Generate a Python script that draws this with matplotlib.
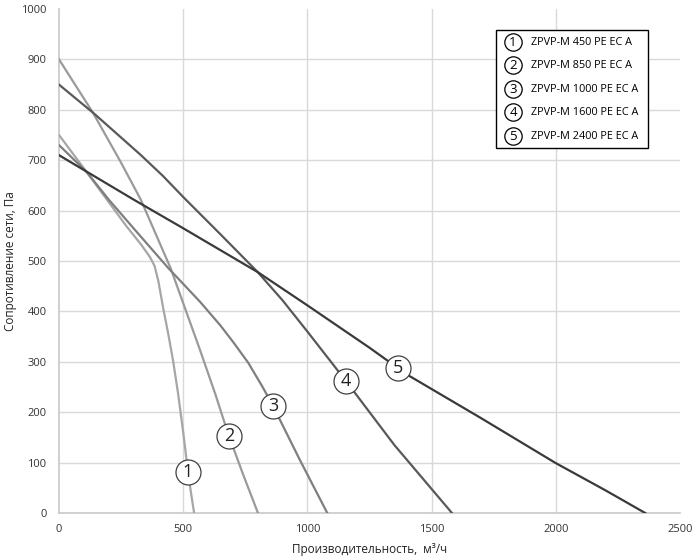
import numpy as np
import matplotlib
matplotlib.use('Agg')
import matplotlib.pyplot as plt
from matplotlib.patches import Rectangle

plt.rcParams['font.family'] = ['Open Sans', 'DejaVu Sans']

# fan curves (flow m3/h, pressure Pa)
models = ['ZPVP-M 450 PE EC A', 'ZPVP-M 850 PE EC A', 'ZPVP-M 1000 PE EC A',
          'ZPVP-M 1600 PE EC A', 'ZPVP-M 2400 PE EC A']

x1 = [0, 109, 200, 270, 330, 366, 385, 400, 420, 440, 460, 480, 500, 510, 520, 532, 544]
y1 = [750, 678, 617, 570, 533, 508, 490, 460, 405, 355, 300, 235, 160, 120, 78, 38, 0]

x2 = [0, 137, 250, 330, 450, 568, 630, 681, 740, 801]
y2 = [900, 794, 695, 621, 485, 323, 235, 157, 78, 0]

x3 = [0, 109, 200, 300, 440, 568, 650, 700, 762, 822, 862, 970, 1080]
y3 = [730, 678, 622, 565, 486, 419, 372, 340, 298, 248, 212, 105, 0]

x4 = [0, 140, 250, 330, 420, 500, 650, 800, 900, 1000, 1155, 1350, 1582]
y4 = [850, 793, 745, 710, 668, 627, 553, 478, 422, 360, 262, 135, 0]

x5 = [0, 300, 500, 800, 1000, 1250, 1400, 1700, 2000, 2200, 2360]
y5 = [710, 622, 565, 478, 412, 328, 275, 188, 99, 45, 0]

label_x = [519, 684, 862, 1155, 1365]

colors = ['#a6a6a6', '#9a9a9a', '#7f7f7f', '#595959', '#3a3a3a']
curves = [(x1, y1), (x2, y2), (x3, y3), (x4, y4), (x5, y5)]

fig = plt.figure(figsize=(7, 5.6), dpi=100)
ax = fig.add_axes([0.0843, 0.0839, 0.8871, 0.9])

for i, (xs, ys) in enumerate(curves):
    ax.plot(xs, ys, color=colors[i], lw=1.6, zorder=3)

# numbered circles on the curves
for i, (xs, ys) in enumerate(curves):
    lx = label_x[i]
    ly = np.interp(lx, xs, ys)
    ax.plot(lx, ly, 'o', ms=18, mfc='white', mec='#404040', mew=0.9, zorder=5)
    ax.text(lx, ly, str(i + 1), ha='center', va='center', fontsize=13,
            color='#222222', zorder=6)

ax.set_xlim(0, 2500)
ax.set_ylim(0, 1000)
ax.set_xticks(range(0, 2501, 500))
ax.set_yticks(range(0, 1001, 100))
ax.grid(True, color='#d9d9d9', lw=1)
ax.set_axisbelow(True)
ax.xaxis.get_gridlines()[-1].set_visible(False)
ax.yaxis.get_gridlines()[-1].set_visible(False)
ax.xaxis.get_gridlines()[0].set_visible(False)
ax.yaxis.get_gridlines()[0].set_visible(False)

for s in ['top', 'right']:
    ax.spines[s].set_visible(False)
for s in ['left', 'bottom']:
    ax.spines[s].set_color('#c8c8c8')
    ax.spines[s].set_linewidth(1.2)

ax.tick_params(axis='both', length=0, labelsize=8, colors='#333333')
ax.tick_params(axis='y', pad=9)
ax.tick_params(axis='x', pad=8)

ax.set_xlabel('Производительность,  м³/ч', fontsize=8.5, color='#222222', labelpad=6)
ax.set_ylabel('Сопротивление сети, Па', fontsize=8.5, color='#222222', labelpad=3)

# legend drawn by hand: circled number + model name
ax.add_patch(Rectangle((0.7037, 0.7242), 0.2448, 0.2341, transform=ax.transAxes,
                       fc='white', ec='black', lw=1, zorder=7))
row_y = [0.9345, 0.8889, 0.8413, 0.7956, 0.7480]
for i, name in enumerate(models):
    ax.plot(0.731, row_y[i], 'o', ms=12.5, mfc='white', mec='black', mew=0.9,
            transform=ax.transAxes, zorder=8, clip_on=False)
    ax.text(0.731, row_y[i], str(i + 1), ha='center', va='center', fontsize=9.5,
            transform=ax.transAxes, zorder=9)
    ax.text(0.760, row_y[i], name, ha='left', va='center', fontsize=7.8,
            transform=ax.transAxes, zorder=9)

fig.savefig('out.png', dpi=100)
